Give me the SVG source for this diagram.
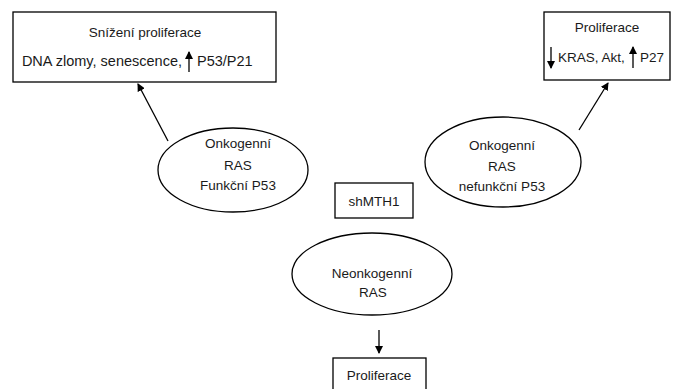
<svg xmlns="http://www.w3.org/2000/svg" width="685" height="389" viewBox="0 0 685 389">
<defs>
<marker id="ah" markerWidth="8" markerHeight="8" refX="7" refY="4" orient="auto" markerUnits="userSpaceOnUse">
<path d="M0,0 L8,4 L0,8 Z" fill="#000"/>
</marker>
<style>
rect, ellipse { fill: #fff; stroke: #000; stroke-width: 1.3; }
text { font-family: "Liberation Sans", Arial, sans-serif; font-size: 13.5px; fill: #1a1a1a; }
.c { text-anchor: middle; }
.e { text-anchor: end; }
.w { font-size: 14.5px; }
line { stroke: #000; stroke-width: 1.3; }
</style>
</defs>
<rect x="0" y="0" width="685" height="389" style="fill:#fff;stroke:none"/>
<g id="connectors">
<line x1="168" y1="141" x2="138" y2="84" marker-end="url(#ah)"/>
<line x1="579" y1="130" x2="608" y2="83" marker-end="url(#ah)"/>
<line x1="379" y1="330" x2="379" y2="353" marker-end="url(#ah)"/>
</g>
<g id="box-snizeni">
<rect x="13" y="12" width="263" height="70"/>
<text class="c" x="145" y="37">Snížení proliferace</text>
<text class="e w" x="182" y="66">DNA zlomy, senescence,</text>
<line x1="189" y1="72" x2="189" y2="52" marker-end="url(#ah)"/>
<text class="w" x="197" y="66">P53/P21</text>
</g>
<g id="box-proliferace-top">
<rect x="544" y="12" width="126" height="68"/>
<text class="c" x="607" y="32">Proliferace</text>
<line x1="551" y1="47" x2="551" y2="68" marker-end="url(#ah)"/>
<text x="558" y="62">KRAS, Akt,</text>
<line x1="633" y1="68" x2="633" y2="47" marker-end="url(#ah)"/>
<text x="640" y="62">P27</text>
</g>
<g id="ellipse-funkcni">
<ellipse cx="233" cy="170" rx="75" ry="42"/>
<text class="c" x="238" y="148">Onkogenní</text>
<text class="c" x="238" y="170">RAS</text>
<text class="c" x="238" y="190">Funkční P53</text>
</g>
<g id="ellipse-nefunkcni">
<ellipse cx="503" cy="162" rx="78" ry="45"/>
<text class="c" x="502" y="150">Onkogenní</text>
<text class="c" x="502" y="171">RAS</text>
<text class="c" x="502" y="191">nefunkční P53</text>
</g>
<g id="box-shmth1">
<rect x="335" y="183" width="78" height="35"/>
<text class="c" x="374" y="206">shMTH1</text>
</g>
<g id="ellipse-neonkogenni">
<ellipse cx="372" cy="274" rx="80" ry="41"/>
<text class="c" x="372" y="278">Neonkogenní</text>
<text class="c" x="373" y="297">RAS</text>
</g>
<g id="box-proliferace-bottom">
<rect x="333" y="358" width="93" height="40"/>
<text class="c" x="379" y="380">Proliferace</text>
</g>
</svg>
